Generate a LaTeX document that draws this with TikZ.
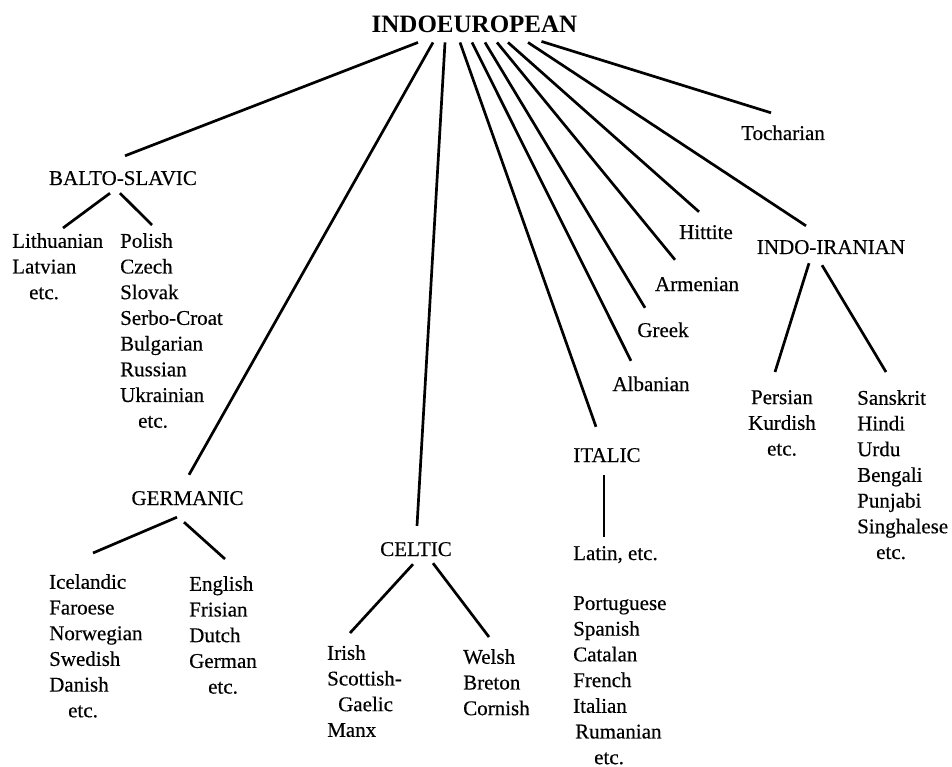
\documentclass[tikz,border=0pt]{standalone}
\usepackage{fontspec}
\setmainfont{Liberation Serif}[UprightFeatures={FakeBold=0.4}]
\newcommand{\langfont}{\fontsize{21}{25.7}\selectfont}

\begin{document}
\begin{tikzpicture}[x=1pt,y=-1pt,
        top/.style={font=\fontsize{25}{30}\selectfont\bfseries, inner sep=0pt, anchor=base},
        branch/.style={font=\langfont, text height=14pt, text depth=0pt, inner sep=0pt, anchor=base},
        group/.style={font=\langfont, inner sep=0pt, align=left, anchor=north west},
        link/.style={line width=2.7pt}]
        \useasboundingbox (0,0) rectangle (952,767);

        \node[top] (ie) at (474.5,33) {INDOEUROPEAN};

        \node[branch] (bs) at (123,185) {BALTO-SLAVIC};
        \node[branch] (toch) at (783,140) {Tocharian};
        \node[branch] (hit) at (706,239) {Hittite};
        \node[branch] (indir) at (831,254) {INDO-IRANIAN};
        \node[branch] (arm) at (697,291) {Armenian};
        \node[branch] (gre) at (663,337) {Greek};
        \node[branch] (alb) at (651,391) {Albanian};
        \node[branch] (ita) at (607,462) {ITALIC};
        \node[branch] (ger) at (187.5,505) {GERMANIC};
        \node[branch] (cel) at (416,556) {CELTIC};
        \node[branch, anchor=base west] (lat) at (573,560) {Latin, etc.};

        \node[group] (balt) at (12,233) {Lithuanian\\Latvian\\\hspace*{17pt}etc.};
        \node[group] (slav) at (120,233) {Polish\\Czech\\Slovak\\Serbo-Croat\\Bulgarian\\Russian\\Ukrainian\\\hspace*{18pt}etc.};
        \node[group] (nord) at (49,574) {Icelandic\\Faroese\\Norwegian\\Swedish\\Danish\\\hspace*{19pt}etc.};
        \node[group] (west) at (189,576) {English\\Frisian\\Dutch\\German\\\hspace*{19pt}etc.};
        \node[group] (goid) at (327,645) {Irish\\Scottish-\\\hspace*{11pt}Gaelic\\Manx};
        \node[group] (bryth) at (463,649) {Welsh\\Breton\\Cornish};
        \node[group] (rom) at (573,596) {Portuguese\\Spanish\\Catalan\\French\\Italian\\\hspace*{2pt}Rumanian\\\hspace*{21pt}etc.};
        \node[group, align=center, anchor=north] (iran) at (782,390) {Persian\\Kurdish\\etc.};
        \node[group] (indic) at (857,390) {Sanskrit\\Hindi\\Urdu\\Bengali\\Punjabi\\Singhalese\\\hspace*{19pt}etc.};

        \draw[link] ([xshift=-56.5pt,yshift=-9pt]ie.south) -- ([xshift=2pt,yshift=15pt]bs.north);
        \draw[link] ([xshift=-41.5pt,yshift=-9pt]ie.south) -- ([xshift=1.5pt,yshift=16pt]ger.north);
        \draw[link] ([xshift=-29.5pt,yshift=-9pt]ie.south) -- ([xshift=1pt,yshift=16pt]cel.north);
        \draw[link] ([xshift=-14.5pt,yshift=-9pt]ie.south) -- ([xshift=-11pt,yshift=21pt]ita.north);
        \draw[link] ([xshift=-2.5pt,yshift=-9pt]ie.south) -- ([xshift=-20pt,yshift=16pt]alb.north);
        \draw[link] ([xshift=10.5pt,yshift=-9pt]ie.south) -- ([xshift=-18pt,yshift=15pt]gre.north);
        \draw[link] ([xshift=22.5pt,yshift=-9pt]ie.south) -- ([xshift=-22pt,yshift=17pt]arm.north);
        \draw[link] ([xshift=33.5pt,yshift=-9pt]ie.south) -- ([xshift=-7pt,yshift=13pt]hit.north);
        \draw[link] ([xshift=53.5pt,yshift=-9pt]ie.south) -- ([xshift=-25pt,yshift=14pt]indir.north);
        \draw[link] ([xshift=67pt,yshift=-8pt]ie.south) -- ([xshift=-12pt,yshift=13pt]toch.north);

        \draw[link] ([xshift=-13pt,yshift=-8pt]bs.south) -- ([xshift=51pt,yshift=5pt]balt.north west);
        \draw[link] ([xshift=-3pt,yshift=-8pt]bs.south) -- ([xshift=32pt,yshift=8pt]slav.north west);
        \draw[link] ([xshift=-10.5pt,yshift=-12pt]ger.south) -- ([xshift=44pt,yshift=21pt]nord.north west);
        \draw[link] ([xshift=-3.5pt,yshift=-17pt]ger.south) -- ([xshift=36pt,yshift=17pt]west.north west);
        \draw[link] ([xshift=-3pt,yshift=-8pt]cel.south) -- ([xshift=23pt,yshift=12pt]goid.north west);
        \draw[link] ([xshift=17pt,yshift=-7pt]cel.south) -- ([xshift=26pt,yshift=12pt]bryth.north west);
        \draw[link] ([xshift=-3pt,yshift=-13pt]ita.south) -- ([xshift=31pt,yshift=9pt]lat.north west);
        \draw[link] ([xshift=-22pt,yshift=-9pt]indir.south) -- ([xshift=-7pt,yshift=18pt]iran.north);
        \draw[link] ([xshift=-9pt,yshift=-11pt]indir.south) -- ([xshift=29pt,yshift=18pt]indic.north west);

    \end{tikzpicture}
\end{document}
